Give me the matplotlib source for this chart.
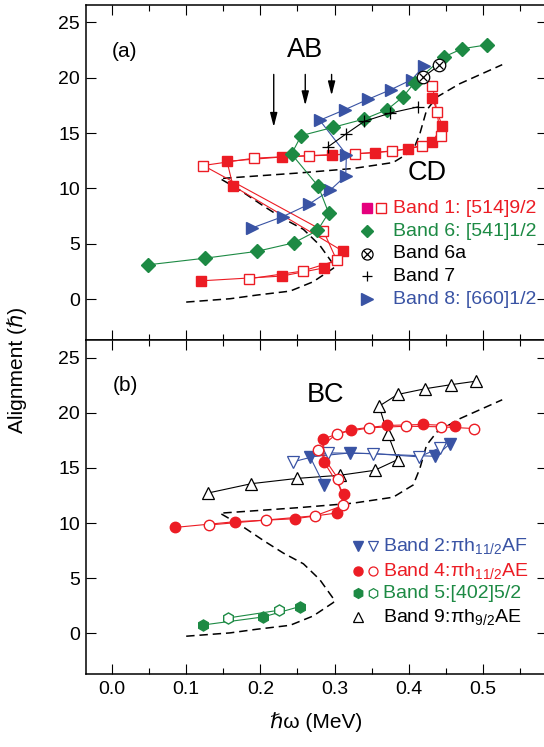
import matplotlib
matplotlib.use('Agg')
import matplotlib.pyplot as plt
from matplotlib.ticker import MultipleLocator

plt.rcParams['font.family'] = ['Liberation Sans', 'DejaVu Sans']
plt.rcParams['mathtext.fontset'] = 'custom'
plt.rcParams['mathtext.rm'] = 'Liberation Sans'
plt.rcParams['mathtext.it'] = 'Liberation Sans:italic'

RED = '#ec1c24'
GREEN = '#1d8a44'
BLUE = '#3953a4'
MAGENTA = '#e5007d'

# dashed reference curve (same in both panels)
ref_x = [0.100, 0.159, 0.195, 0.240, 0.271, 0.298, 0.3005, 0.280, 0.258, 0.231, 0.206, 0.1725,
         0.1456, 0.253, 0.325, 0.379, 0.406, 0.415, 0.424, 0.438, 0.469, 0.526]
ref_y = [-0.27, 0.03, 0.36, 0.72, 1.56, 2.77, 2.94, 4.87, 6.3, 7.27, 8.33, 9.84,
         10.89, 11.4, 11.8, 12.34, 13.45, 14.95, 17.06, 18.26, 19.47, 21.18]

# ---- panel (a)
band1_filled_x = [0.120, 0.229, 0.286, 0.312, 0.163, 0.155, 0.229, 0.297, 0.355, 0.399, 0.432, 0.445, 0.432]
band1_filled_y = [1.65, 2.08, 2.82, 4.30, 10.23, 12.45, 12.84, 13.02, 13.24, 13.56, 14.20, 15.64, 18.17]
band1_open_x = [0.184, 0.257, 0.303, 0.285, 0.123, 0.191, 0.265, 0.327, 0.378, 0.418, 0.443, 0.438, 0.432]
band1_open_y = [1.83, 2.53, 3.49, 6.16, 12.07, 12.73, 12.97, 13.12, 13.36, 13.81, 14.71, 16.94, 19.25]

band6_x = [0.049, 0.126, 0.195, 0.245, 0.277, 0.292, 0.278, 0.242, 0.255, 0.298, 0.340, 0.371,
           0.392, 0.408, 0.447, 0.472, 0.506]
band6_y = [3.10, 3.70, 4.31, 5.08, 6.20, 7.79, 10.20, 13.11, 14.77, 15.52, 16.27, 17.12,
           18.26, 19.56, 21.87, 22.62, 22.98]

band6a_x = [0.4195, 0.4407]
band6a_y = [20.06, 21.12]

band7_x = [0.291, 0.316, 0.340, 0.375, 0.412]
band7_y = [13.75, 14.95, 16.06, 16.81, 17.36]

band8_x = [0.189, 0.2305, 0.265, 0.294, 0.315, 0.316, 0.280, 0.314, 0.345, 0.376, 0.404, 0.421]
band8_y = [6.43, 7.46, 8.55, 9.84, 11.13, 13.06, 16.16, 17.12, 18.05, 18.93, 19.83, 21.09]

arrow_x = [0.218, 0.2605, 0.296]
arrow_top = [20.3, 20.3, 20.3]
arrow_bot = [15.55, 17.5, 18.4]

# ---- panel (b)
band9_x = [0.130, 0.188, 0.250, 0.307, 0.354, 0.385, 0.372, 0.360, 0.385, 0.422, 0.457, 0.491]
band9_y = [12.73, 13.57, 14.05, 14.33, 14.78, 15.75, 18.03, 20.6, 21.66, 22.18, 22.55, 22.87]

band4_filled_x = [0.085, 0.166, 0.247, 0.303, 0.313, 0.286, 0.285, 0.322, 0.371, 0.419, 0.463]
band4_filled_y = [9.6, 10.12, 10.39, 10.91, 12.6, 15.51, 17.64, 18.48, 18.85, 18.94, 18.82]
band4_open_x = [0.131, 0.2075, 0.274, 0.312, 0.305, 0.278, 0.303, 0.347, 0.396, 0.443, 0.488]
band4_open_y = [9.82, 10.27, 10.66, 11.6, 14.0, 16.66, 18.12, 18.64, 18.78, 18.73, 18.57]

band2_filled_x = [0.286, 0.267, 0.321, 0.436, 0.4555]
band2_filled_y = [13.42, 16.0, 16.36, 16.05, 17.18]
band2_open_x = [0.244, 0.291, 0.352, 0.414, 0.442]
band2_open_y = [15.55, 16.36, 16.3, 16.0, 16.82]

band5_filled_x = [0.123, 0.204, 0.253]
band5_filled_y = [0.75, 1.48, 2.42]
band5_open_x = [0.157, 0.2255]
band5_open_y = [1.39, 2.09]

FS = 14

fig = plt.figure(figsize=(5.44, 7.47), dpi=100)
ax1 = fig.add_axes([0.159, 0.5448, 0.846, 0.4489])
ax2 = fig.add_axes([0.159, 0.0977, 0.846, 0.4471])


def style_axes(ax, labels_x):
    ax.set_xlim(-0.0344, 0.586)
    ax.set_ylim(-3.7, 26.6)
    ax.xaxis.set_major_locator(MultipleLocator(0.1))
    ax.xaxis.set_minor_locator(MultipleLocator(0.05))
    ax.yaxis.set_major_locator(MultipleLocator(5))
    ax.tick_params(which='both', direction='in', top=True, right=True, width=0.8, labelsize=FS)
    ax.tick_params(which='major', length=7.2)
    ax.tick_params(which='minor', length=4.3)
    ax.tick_params(axis='y', pad=4.5)
    ax.tick_params(axis='x', pad=5)
    if not labels_x:
        ax.tick_params(axis='x', labelbottom=False)
    for s in ax.spines.values():
        s.set_linewidth(1.1)


style_axes(ax1, False)
style_axes(ax2, True)
ax2.xaxis.set_major_formatter(matplotlib.ticker.FormatStrFormatter('%.1f'))

dash = dict(color='k', lw=1.1, dashes=(5.5, 3.2), zorder=1)
ax1.plot(ref_x, ref_y, **dash)
ax2.plot(ref_x, ref_y, **dash)

lw = 0.8
# panel (a)
ax1.plot(band1_filled_x, band1_filled_y, '-s', color=RED, lw=lw, ms=7.5, mfc=RED, mec=RED, zorder=3)
ax1.plot(band1_open_x, band1_open_y, '-s', color=RED, lw=lw, ms=7.5, mfc='white', mec=RED, mew=1, zorder=3)
ax1.plot(band8_x, band8_y, '->', color=BLUE, lw=lw, ms=9, mfc=BLUE, mec=BLUE, zorder=3)
ax1.plot(band6_x, band6_y, '-D', color=GREEN, lw=lw, ms=7, mfc=GREEN, mec=GREEN, zorder=4)
ax1.plot(band7_x, band7_y, '-+', color='k', lw=lw, ms=8, mew=0.9, zorder=4)
ax1.plot(band6a_x, band6a_y, '-', color='k', lw=lw, zorder=4)
ax1.plot(band6a_x, band6a_y, 'o', ms=9, mfc='white', mec='k', mew=0.9, zorder=5)
ax1.plot(band6a_x, band6a_y, 'x', ms=6, color='k', mew=0.9, zorder=6)

for xa, yt, yb in zip(arrow_x, arrow_top, arrow_bot):
    ax1.annotate('', xy=(xa, yb), xytext=(xa, yt),
                 arrowprops=dict(arrowstyle='-|>,head_length=0.7,head_width=0.18',
                                 color='k', lw=1.0, mutation_scale=12, shrinkA=0, shrinkB=0))

ax1.text(0.0175, 22.4, '(a)', fontsize=15, ha='center', va='center')
ax1.text(0.260, 22.5, 'AB', fontsize=19.5, ha='center', va='center')
ax1.text(0.4245, 11.4, 'CD', fontsize=19.5, ha='center', va='center')

# legend (a)
leg_y = [8.2, 6.15, 4.1, 2.05, 0.0]
tx = 0.379
ax1.plot([0.3432], [leg_y[0]], 's', ms=7, color=MAGENTA)
ax1.plot([0.3625], [leg_y[0]], 's', ms=7, mfc='white', mec=RED, mew=1)
ax1.text(tx, leg_y[0], 'Band 1: [514]9/2', color=RED, fontsize=FS, va='center')
ax1.plot([0.3432], [leg_y[1]], 'D', ms=6.5, color=GREEN)
ax1.text(tx, leg_y[1], 'Band 6: [541]1/2', color=GREEN, fontsize=FS, va='center')
ax1.plot([0.3432], [leg_y[2]], 'o', ms=8, mfc='white', mec='k', mew=0.9)
ax1.plot([0.3432], [leg_y[2]], 'x', ms=5.5, color='k', mew=0.9)
ax1.text(tx, leg_y[2], 'Band 6a', color='k', fontsize=FS, va='center')
ax1.plot([0.3432], [leg_y[3]], '+', ms=7, color='k', mew=0.9)
ax1.text(tx, leg_y[3], 'Band 7', color='k', fontsize=FS, va='center')
ax1.plot([0.3432], [leg_y[4]], '>', ms=8, color=BLUE)
ax1.text(tx, leg_y[4], 'Band 8: [660]1/2', color=BLUE, fontsize=FS, va='center')

# panel (b)
ax2.plot(band9_x, band9_y, '-^', color='k', lw=lw, ms=9, mfc='white', mec='k', mew=0.9, zorder=3)
ax2.plot(band2_filled_x, band2_filled_y, '-v', color=BLUE, lw=lw, ms=8.5, mfc=BLUE, mec=BLUE, zorder=4)
ax2.plot(band2_open_x, band2_open_y, '-v', color=BLUE, lw=lw, ms=8.5, mfc='white', mec=BLUE, mew=0.9, zorder=4)
ax2.plot(band4_filled_x, band4_filled_y, '-o', color=RED, lw=lw, ms=7.5, mfc=RED, mec=RED, zorder=5)
ax2.plot(band4_open_x, band4_open_y, '-o', color=RED, lw=lw, ms=7.5, mfc='white', mec=RED, mew=1, zorder=5)
ax2.plot(band5_filled_x, band5_filled_y, '-h', color=GREEN, lw=lw, ms=8, mfc=GREEN, mec=GREEN, zorder=5)
ax2.plot(band5_open_x, band5_open_y, '-h', color=GREEN, lw=lw, ms=8, mfc='white', mec=GREEN, mew=1, zorder=5)

ax2.text(0.0175, 22.5, '(b)', fontsize=15, ha='center', va='center')
ax2.text(0.2884, 21.6, 'BC', fontsize=19.5, ha='center', va='center')

# legend (b)
leg2_y = [7.87, 5.66, 3.64, 1.45]
m1, m2, tx2 = 0.332, 0.3513, 0.3656
ax2.plot([m1], [leg2_y[0]], 'v', ms=7, color=BLUE)
ax2.plot([m2], [leg2_y[0]], 'v', ms=7, mfc='white', mec=BLUE, mew=0.9)
ax2.text(tx2, leg2_y[0], r'Band 2:πh$_{11/2}$AF', color=BLUE, fontsize=FS, va='center')
ax2.plot([m1], [leg2_y[1]], 'o', ms=6.5, color=RED)
ax2.plot([m2], [leg2_y[1]], 'o', ms=6.5, mfc='white', mec=RED, mew=0.9)
ax2.text(tx2, leg2_y[1], r'Band 4:πh$_{11/2}$AE', color=RED, fontsize=FS, va='center')
ax2.plot([m1], [leg2_y[2]], 'h', ms=7, color=GREEN)
ax2.plot([m2], [leg2_y[2]], 'h', ms=7, mfc='white', mec=GREEN, mew=0.9)
ax2.text(tx2, leg2_y[2], 'Band 5:[402]5/2', color=GREEN, fontsize=FS, va='center')
ax2.plot([m1], [leg2_y[3]], '^', ms=7, mfc='white', mec='k', mew=0.9)
ax2.text(tx2, leg2_y[3], r'Band 9:πh$_{9/2}$AE', color='k', fontsize=FS, va='center')

ax2.set_xlabel('ℏω (MeV)', fontsize=15, labelpad=10)
fig.text(0.031, 0.505, 'Alignment (ℏ)', rotation=90, fontsize=15, ha='center', va='center')

fig.savefig('out.png', dpi=100)
